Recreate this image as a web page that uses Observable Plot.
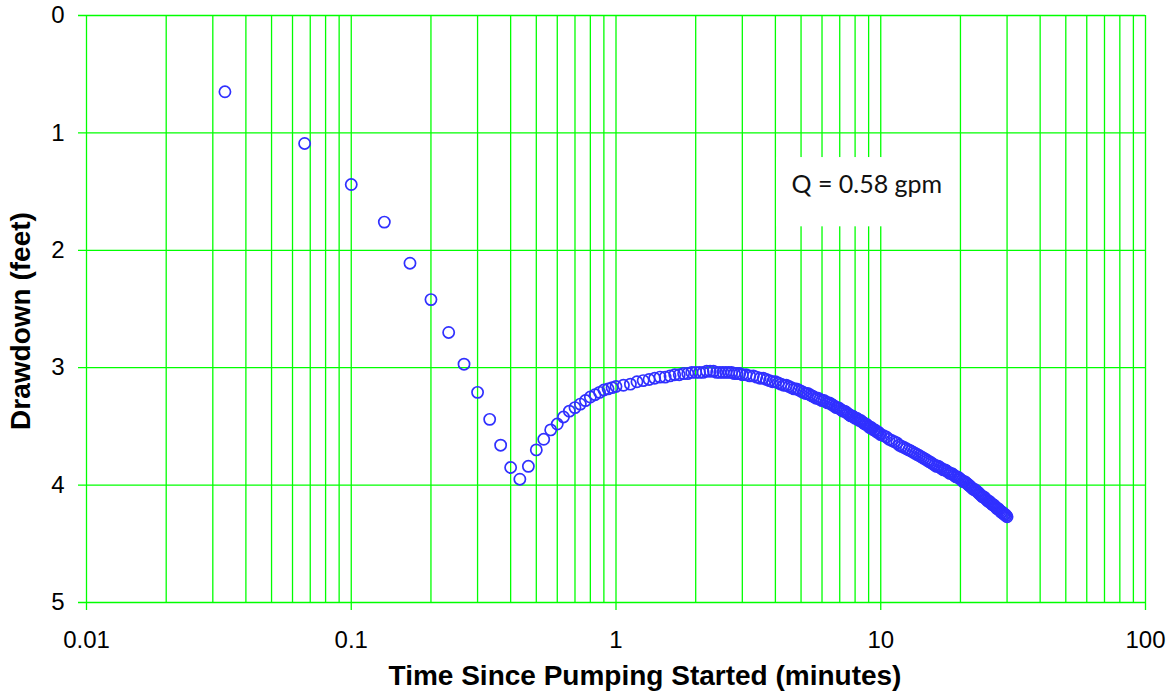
<!DOCTYPE html>
<html><head><meta charset="utf-8">
<script src="https://cdn.jsdelivr.net/npm/d3@7"></script>
<script src="https://cdn.jsdelivr.net/npm/@observablehq/plot@0.6"></script>
<style>body{margin:0;background:#fff}</style>
</head><body><div id="chart"></div>
<script>
// Elapsed time of each reading (seconds since pumping started)
const timeSec = [
  2,4,6,8,10,12,14,16,18,20,22,24,26,28,30,32,34,36,38,40,42,44,46,48,50,52,54,56,58,60,
  64,68,72,76,80,84,88,92,96,100,104,108,112,116,120,124,128,132,136,140,144,148,152,156,160,164,168,172,176,180,
  186,192,198,204,210,216,222,228,234,240,246,252,258,264,270,276,282,288,294,300,306,312,318,324,330,336,342,348,354,360,
  366,372,378,384,390,396,402,408,414,420,426,432,438,444,450,456,462,468,474,480,486,492,498,504,510,516,522,528,534,540,
  546,552,558,564,570,576,582,588,594,600,
  615,630,645,660,675,690,705,720,735,750,765,780,795,810,825,840,855,870,885,900,915,930,945,960,975,990,1005,1020,1035,1050,
  1065,1080,1095,1110,1125,1140,1155,1170,1185,1200,1215,1230,1245,1260,1275,1290,1305,1320,1335,1350,1365,1380,1395,1410,1425,1440,
  1455,1470,1485,1500,1515,1530,1545,1560,1575,1590,1605,1620,1635,1650,1665,1680,1695,1710,1725,1740,1755,1770,1785,1800
];
// Drawdown at each reading (feet)
const drawdownFt = [
  0.65,1.09,1.44,1.76,2.11,2.42,2.70,2.97,3.21,3.44,3.66,3.85,3.95,3.84,3.70,3.61,3.53,3.48,3.42,3.37,3.34,3.31,3.28,3.25,3.23,3.21,3.19,3.18,3.17,3.16,
  3.15,3.14,3.12,3.11,3.10,3.09,3.08,3.08,3.07,3.06,3.06,3.05,3.05,3.04,3.04,3.04,3.04,3.03,3.03,3.03,3.04,3.04,3.04,3.04,3.04,3.04,3.05,3.05,3.05,3.06,
  3.06,3.07,3.07,3.08,3.09,3.09,3.10,3.11,3.12,3.12,3.13,3.14,3.15,3.15,3.16,3.17,3.18,3.18,3.19,3.20,3.21,3.22,3.22,3.23,3.24,3.25,3.26,3.26,3.27,3.28,
  3.28,3.29,3.30,3.30,3.31,3.32,3.33,3.34,3.34,3.35,3.36,3.37,3.37,3.38,3.39,3.40,3.41,3.41,3.42,3.43,3.43,3.44,3.45,3.45,3.46,3.47,3.48,3.48,3.49,3.50,
  3.51,3.51,3.52,3.53,3.53,3.54,3.55,3.55,3.56,3.57,
  3.58,3.59,3.61,3.62,3.63,3.64,3.66,3.67,3.68,3.69,3.70,3.71,3.72,3.73,3.74,3.75,3.76,3.77,3.78,3.79,3.80,3.81,3.82,3.83,3.84,3.84,3.85,3.86,3.87,3.87,
  3.88,3.89,3.90,3.90,3.91,3.92,3.93,3.93,3.94,3.95,3.96,3.97,3.97,3.98,3.99,4.00,4.01,4.02,4.03,4.04,4.04,4.05,4.06,4.07,4.08,4.09,
  4.10,4.10,4.11,4.12,4.13,4.14,4.14,4.15,4.16,4.17,4.17,4.18,4.19,4.20,4.20,4.21,4.22,4.23,4.23,4.24,4.25,4.25,4.26,4.27
];
// Axis ticks / grid
const decadeTicks = [0.01, 0.1, 1, 10, 100];
const gridTimes = [0.02,0.03,0.04,0.05,0.06,0.07,0.08,0.09,0.2,0.3,0.4,0.5,0.6,0.7,0.8,0.9,2,3,4,5,6,7,8,9,20,30,40,50,60,70,80,90];
const depthTicks = [0, 1, 2, 3, 4, 5];
const xTitle = "Time Since Pumping Started (minutes)";
const yTitle = "Drawdown (feet)";
const noteText = "Q = 0.58 gpm";
const noteBox = [{x1: 4.04, x2: 19.5, y1: 1.21, y2: 1.8}];

const data = timeSec.map((s, i) => ({minutes: s / 60, ft: drawdownFt[i]}));
const GREEN = "#00ff00";
const FONT = "'Liberation Sans', Arial, sans-serif";

const chart = Plot.plot({
  width: 1175, height: 694,
  marginLeft: 86, marginRight: 30, marginTop: 15, marginBottom: 92,
  style: {fontFamily: FONT, background: "#fff", overflow: "visible", color: "#000"},
  x: {type: "log", domain: [0.01, 100], axis: null},
  y: {domain: [0, 5], reverse: true, axis: null},
  marks: [
    Plot.ruleX(gridTimes, {x: d => d, y1: 0, y2: 5, stroke: GREEN, strokeWidth: 1.3}),
    Plot.ruleX(decadeTicks, {x: d => d, y1: 0, y2: 5, insetBottom: -8, stroke: GREEN, strokeWidth: 1.3}),
    Plot.ruleY(depthTicks, {y: d => d, x1: 0.01, x2: 100, insetLeft: -8, stroke: GREEN, strokeWidth: 1.3}),
    Plot.rect(noteBox, {x1: "x1", x2: "x2", y1: "y1", y2: "y2", fill: "white"}),
    Plot.text([noteText], {x: 4.6, y: 1.44, text: d => d, textAnchor: "start", lineAnchor: "middle", fontSize: 25, fontFamily: "Lato, 'Open Sans', sans-serif", fill: "#111"}),
    Plot.dot(data, {x: "minutes", y: "ft", r: 5.6, stroke: "#3030ff", fill: "none", strokeWidth: 1.7}),
    Plot.text(decadeTicks, {x: d => d, frameAnchor: "bottom", dy: 38, textAnchor: "middle", lineAnchor: "middle", text: d => String(d), fontSize: 24, fill: "#000"}),
    Plot.text(depthTicks, {y: d => d, frameAnchor: "left", dx: -22, textAnchor: "end", lineAnchor: "middle", text: d => String(d), fontSize: 24, fill: "#000"}),
    Plot.text([xTitle], {frameAnchor: "bottom", dx: 29, dy: 74, textAnchor: "middle", lineAnchor: "middle", text: d => d, fontSize: 28, fontWeight: "bold", fill: "#000"}),
    Plot.text([yTitle], {frameAnchor: "left", dx: -65, dy: 12, rotate: -90, textAnchor: "middle", lineAnchor: "middle", text: d => d, fontSize: 28, fontWeight: "bold", fill: "#000"})
  ]
});
document.getElementById("chart").appendChild(chart);
</script>
</body></html>
